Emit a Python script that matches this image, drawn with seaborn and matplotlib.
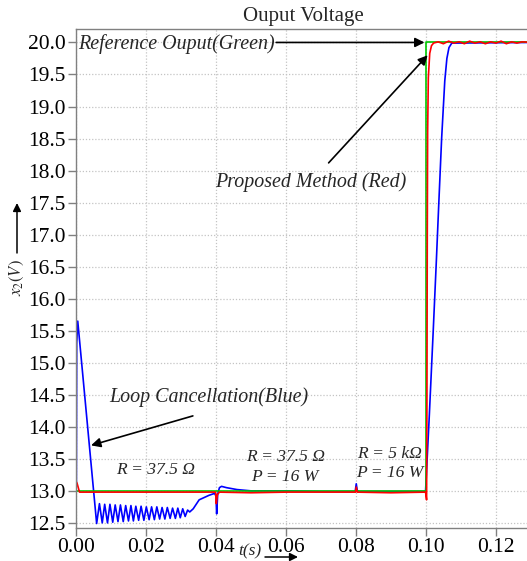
import matplotlib
matplotlib.use("Agg")
import matplotlib.pyplot as plt
import pandas as pd
import seaborn as sns

# ---------------- data ----------------
green_t = [0.0, 0.0999, 0.0999, 0.13]
green_v = [13.0, 13.0, 20.0, 20.0]

red_t = [0.0, 0.0003, 0.0010, 0.0100, 0.0200, 0.0300, 0.0399, 0.0401, 0.0404, 0.0410,
         0.0500, 0.0600, 0.0700, 0.0799, 0.0801, 0.0804, 0.0900, 0.0999, 0.1002, 0.1003,
         0.1004, 0.1005, 0.1007, 0.1011, 0.1016, 0.1022, 0.1035, 0.1050, 0.1065, 0.1080,
         0.1095, 0.1110, 0.1125, 0.1140, 0.1155, 0.1170, 0.1185, 0.1200, 0.1215, 0.1230,
         0.1245, 0.1260, 0.1275, 0.1300]
red_v = [13.15, 13.12, 12.98, 12.98, 12.98, 12.98, 12.98, 12.80, 12.94, 12.98,
         12.97, 12.98, 12.98, 12.98, 13.06, 12.98, 12.97, 12.98, 12.86, 14.5,
         17.0, 18.6, 19.45, 19.83, 19.95, 19.99, 20.01, 19.98, 20.02, 19.99,
         20.01, 19.98, 20.02, 19.99, 20.01, 19.98, 20.01, 19.99, 20.02, 19.98,
         20.01, 19.99, 20.01, 20.0]

blue_t = [0.0, 0.0001, 0.0002, 0.0005,
          0.0059, 0.0067, 0.0075, 0.0082, 0.0090, 0.0097, 0.0105, 0.0112, 0.0120, 0.0127,
          0.0135, 0.0142, 0.0150, 0.0157, 0.0164, 0.0171, 0.0179, 0.0186, 0.0194, 0.0201,
          0.0209, 0.0216, 0.0224, 0.0231, 0.0239, 0.0246, 0.0254, 0.0261, 0.0269, 0.0276,
          0.0284, 0.0291, 0.0298, 0.0305, 0.0312,
          0.0319, 0.0325, 0.0335, 0.0352, 0.0380, 0.0396, 0.0400, 0.0402, 0.0405, 0.0410,
          0.0416, 0.0430, 0.0460, 0.0500, 0.0600, 0.0700, 0.0798, 0.0801, 0.0804, 0.0810,
          0.0900, 0.0999, 0.1010, 0.1021, 0.1030, 0.1037, 0.1045, 0.1054, 0.1060, 0.1066,
          0.1074, 0.1300]
blue_v = [13.0, 13.1, 15.3, 15.65,
          12.49, 12.80, 12.50, 12.79, 12.50, 12.79, 12.51, 12.78, 12.52, 12.78,
          12.52, 12.77, 12.53, 12.77, 12.53, 12.76, 12.54, 12.76, 12.54, 12.75,
          12.55, 12.75, 12.55, 12.75, 12.56, 12.74, 12.56, 12.74, 12.57, 12.73,
          12.57, 12.73, 12.58, 12.72, 12.60,
          12.70, 12.67, 12.72, 12.86, 12.93, 12.96, 12.92, 12.64, 12.95, 13.05,
          13.07, 13.05, 13.02, 13.0, 13.0, 12.99, 12.99, 13.11, 13.0, 12.99,
          12.99, 12.99, 14.2, 15.5, 16.6, 17.5, 18.5, 19.4, 19.75, 19.92,
          19.99, 20.0]

x_ticks = [0.00, 0.02, 0.04, 0.06, 0.08, 0.10, 0.12]
y_ticks = [12.5, 13.0, 13.5, 14.0, 14.5, 15.0, 15.5, 16.0, 16.5, 17.0, 17.5,
           18.0, 18.5, 19.0, 19.5, 20.0]

title = "Ouput Voltage"

# ---------------- style ----------------
sns.set_theme(style="whitegrid")
plt.rcParams["font.family"] = ["Liberation Serif", "DejaVu Serif"]
plt.rcParams["mathtext.fontset"] = "stix"

W, H = 527, 561
fig = plt.figure(figsize=(W / 100, H / 100), dpi=100)
ax = fig.add_axes([76 / W, 1 - 528 / H, (527 - 76) / W, (528 - 29) / H])
ax.set_facecolor("white")

frames = []
for name, t, v in [("blue", blue_t, blue_v), ("green", green_t, green_v), ("red", red_t, red_v)]:
    frames.append(pd.DataFrame({"t": t, "v": v, "series": name}))
df = pd.concat(frames, ignore_index=True)

palette = {"blue": "#0000ff", "green": "#00c800", "red": "#ff0000"}
for name in ["blue", "green", "red"]:
    sns.lineplot(data=df[df["series"] == name], x="t", y="v", color=palette[name],
                 lw=1.2, sort=False, estimator=None, ax=ax, legend=False)

ax.set_xlim(0, 0.1289)
ax.set_ylim(12.42, 20.21)
ax.set_xticks(x_ticks)
ax.set_xticklabels([f"{x:.2f}" for x in x_ticks])
ax.set_yticks(y_ticks)
ax.set_yticklabels([f"{y:.1f}" for y in y_ticks])
ax.tick_params(axis="both", labelsize=15.5, colors="#808080", labelcolor="black",
               length=6, width=1, direction="out", pad=1.5, left=True, bottom=True)
ax.grid(True, color="#c4c4c4", linestyle=(0, (1, 1.5)), linewidth=0.9)
for s in ["left", "bottom", "top"]:
    ax.spines[s].set_visible(True)
    ax.spines[s].set_color("#808080")
    ax.spines[s].set_linewidth(1.0)
ax.spines["right"].set_visible(False)
ax.set_xlabel("")
ax.set_ylabel("")

fig.text(303 / W, 1 - 17 / H, title, ha="center", va="center", fontsize=15)

arrow_kw = dict(arrowstyle="-|>", color="black", lw=1.2, mutation_scale=14, shrinkA=0, shrinkB=0)

# annotations
ax.text(0.0006, 19.98, "Reference Ouput(Green)", fontsize=14.4, fontstyle="italic",
        ha="left", va="center")
ax.annotate("", xy=(0.0996, 20.0), xytext=(0.0572, 20.0), arrowprops=arrow_kw)

ax.text(0.0671, 17.82, "Proposed Method (Red)", fontsize=14.4, fontstyle="italic",
        ha="center", va="center")
ax.annotate("", xy=(0.1005, 19.80), xytext=(0.0722, 18.12), arrowprops=arrow_kw)

ax.text(0.0380, 14.46, "Loop Cancellation(Blue)", fontsize=14.4, fontstyle="italic",
        ha="center", va="center")
ax.annotate("", xy=(0.0043, 13.71), xytext=(0.0334, 14.17), arrowprops=arrow_kw)

ax.text(0.0226, 13.32, "R = 37.5 Ω", fontsize=12.6, fontstyle="italic", ha="center", va="center")
ax.text(0.0600, 13.53, "R = 37.5 Ω", fontsize=12.6, fontstyle="italic", ha="center", va="center")
ax.text(0.0597, 13.22, "P = 16 W", fontsize=12.6, fontstyle="italic", ha="center", va="center")
ax.text(0.0896, 13.58, "R = 5 kΩ", fontsize=12.6, fontstyle="italic", ha="center", va="center")
ax.text(0.0897, 13.28, "P = 16 W", fontsize=12.6, fontstyle="italic", ha="center", va="center")

# axis labels with arrows
fig.text(250 / W, 1 - 551 / H, "t(s)", fontsize=12.5, fontstyle="italic", ha="center", va="center")
ax.annotate("", xy=(298 / W, 1 - 557 / H), xytext=(265 / W, 1 - 557 / H),
            xycoords="figure fraction", textcoords="figure fraction",
            arrowprops=dict(arrowstyle="-|>", color="black", lw=1.1, mutation_scale=12,
                            shrinkA=0, shrinkB=0), annotation_clip=False)
fig.text(17 / W, 1 - 278 / H, r"$x_2(V)$", fontsize=12, rotation=90, ha="center", va="center")
ax.annotate("", xy=(17 / W, 1 - 203 / H), xytext=(17 / W, 1 - 253 / H),
            xycoords="figure fraction", textcoords="figure fraction",
            arrowprops=dict(arrowstyle="-|>", color="black", lw=1.1, mutation_scale=12,
                            shrinkA=0, shrinkB=0), annotation_clip=False)

fig.savefig("out.png", dpi=100)
